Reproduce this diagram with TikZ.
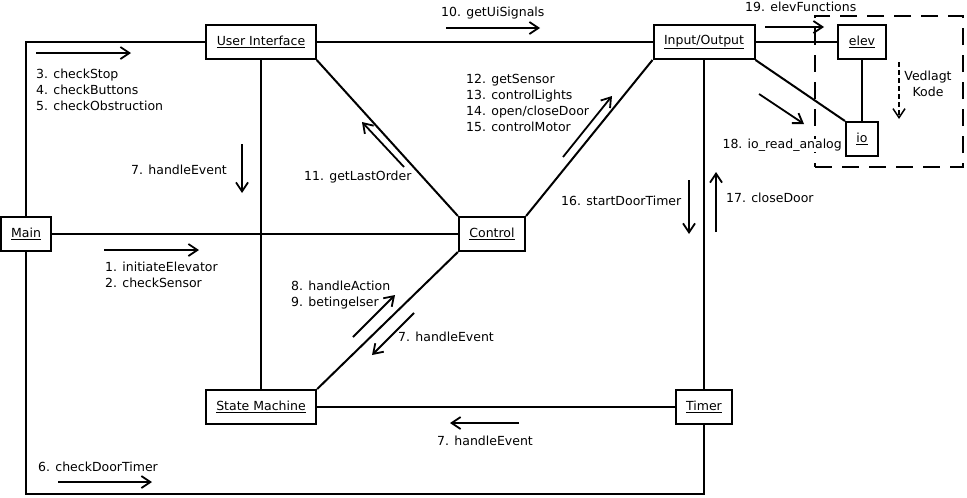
\documentclass[tikz,border=0pt]{standalone}
\usepackage{fontspec}
\setmainfont{DejaVu Sans}
\usetikzlibrary{arrows.meta,positioning}
\tikzstyle{obj}=[rectangle,draw,line width=2pt,inner xsep=10.5pt,inner ysep=0pt,minimum height=34pt,font=\fontsize{12.5}{16}\selectfont]
\tikzstyle{link}=[line width=2pt]
\tikzstyle{msg}=[-{Straight Barb[length=9pt,width=12pt]},line width=1.8pt]
\tikzstyle{txt}=[anchor=north west,align=left,inner sep=0pt,font=\fontsize{12.5}{16}\selectfont]
\begin{document}
\begin{tikzpicture}[x=1pt,y=-1pt]
\useasboundingbox (0,0) rectangle (967,498);

% objects
\node (ui) [obj] at (261,42) {\underline{User Interface}};
\node (io) [obj] at (704,42) {\underline{Input/Output}};
\node (elev) [obj] at (862,42) {\underline{elev}};
\node (ioc) [obj] at (862,139) {\underline{io}};
\node (main) [obj] at (26,234) {\underline{Main}};
\node (ctrl) [obj] at (492,234) {\underline{Control}};
\node (sm) [obj] at (261,407) {\underline{State Machine}};
\node (timer) [obj] at (704,407) {\underline{Timer}};
\node (ext) [draw,line width=2pt,dash pattern=on 17pt off 10pt,minimum width=148pt,minimum height=151pt] at (889,91.5) {};
\coordinate (bottom) at (0,494);

% links
\draw [link] (main.north) |- (ui.west);
\draw [link] (main.south) |- (bottom -| timer.south) -- (timer.south);
\draw [link] (main) -- (ctrl);
\draw [link] (ui) -- (io);
\draw [link] (io) -- (elev);
\draw [link] (elev) -- (ioc);
\draw [link] (io.south east) -- (ioc.north west);
\draw [link] (ui.south east) -- (ctrl.north west);
\draw [link] (io.south west) -- (ctrl.north east);
\draw [link] (ctrl.south west) -- (sm.north east);
\draw [link] (ui) -- (sm);
\draw [link] (io) -- (timer);
\draw [link] (sm) -- (timer);

% messages
\draw [msg] (36,53) -- (131,53);
\node [txt] at (36,69) {3. checkStop\\4. checkButtons\\5. checkObstruction};
\draw [msg] (242,144) -- (242,193);
\node [txt] at (131,165) {7. handleEvent};
\draw [msg] (446,28) -- (540,28);
\node [txt] at (441,7) {10. getUiSignals};
\draw [msg] (404,167) -- (362,122);
\node [txt] at (304,171) {11. getLastOrder};
\draw [msg] (563,157) -- (612,96);
\node [txt] at (466,74) {12. getSensor\\13. controlLights\\14. open/closeDoor\\15. controlMotor};
\draw [msg] (765,27) -- (824,27);
\node [txt] at (745,2) {19. elevFunctions};
\draw [msg] (759,94) -- (804,124);
\node [txt,anchor=north east,fill=white] at (842,139) {18. io\_read\_analog};
\draw [msg,line width=1.5pt,dash pattern=on 5pt off 3pt] (899,62) -- (899,119);
\node [txt,align=center,anchor=north] at (928,71) {Vedlagt\\Kode};
\draw [msg] (689,180) -- (689,234);
\node [txt] at (561,196) {16. startDoorTimer};
\draw [msg] (716,232) -- (716,172);
\node [txt] at (726,193) {17. closeDoor};
\draw [msg] (104,250) -- (199,250);
\node [txt] at (105,262) {1. initiateElevator\\2. checkSensor};
\draw [msg] (353,337) -- (395,295);
\node [txt] at (291,281) {8. handleAction\\9. betingelser};
\draw [msg] (414,313) -- (372,355);
\node [txt] at (398,332) {7. handleEvent};
\draw [msg] (519,423) -- (450,423);
\node [txt] at (437,436) {7. handleEvent};
\draw [msg] (58,482) -- (152,482);
\node [txt] at (38,462) {6. checkDoorTimer};

\end{tikzpicture}
\end{document}
